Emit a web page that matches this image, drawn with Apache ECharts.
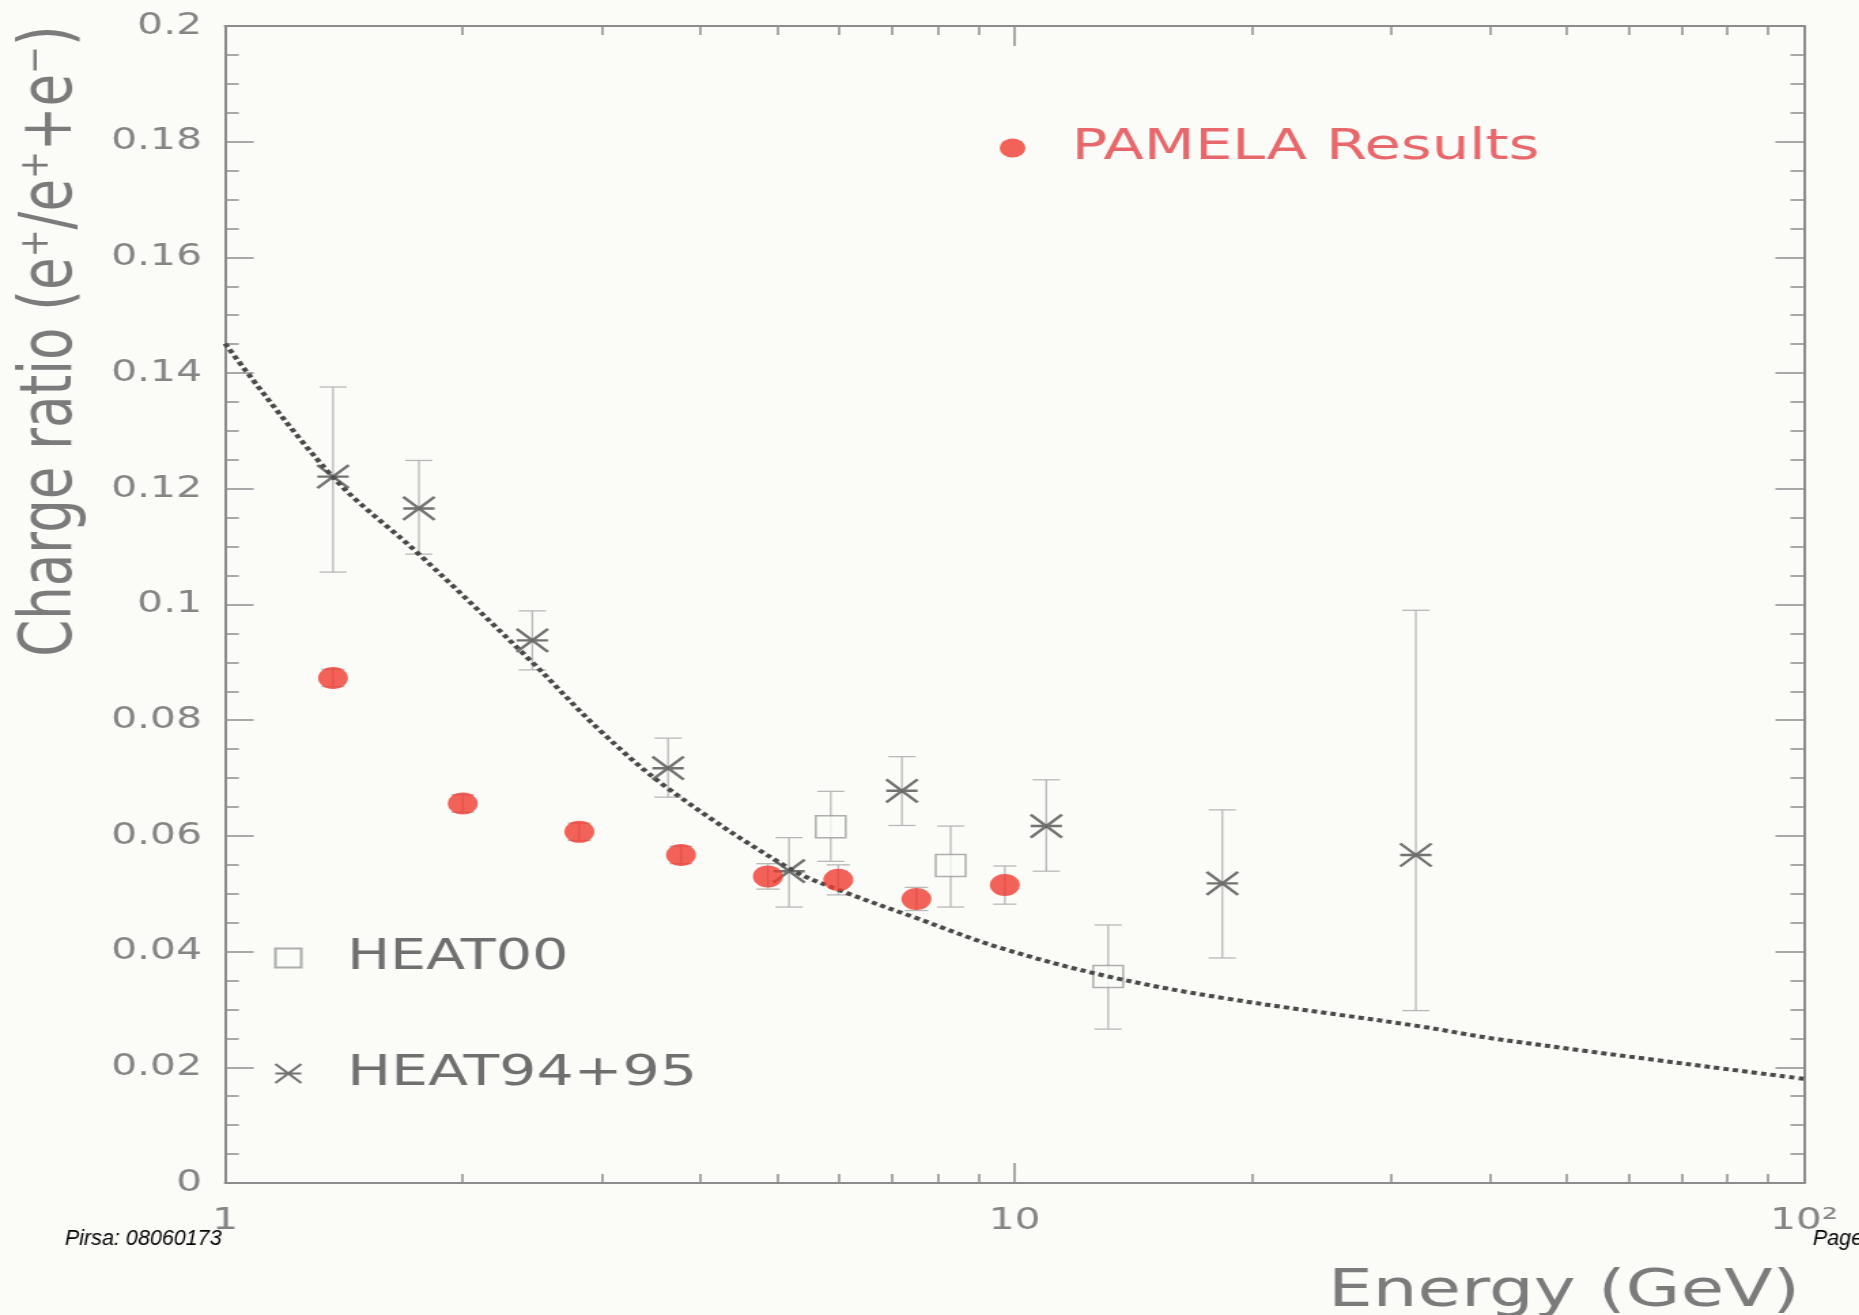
<!DOCTYPE html>
<html><head><meta charset="utf-8">
<script src="https://cdn.jsdelivr.net/npm/echarts@6/dist/echarts.min.js"></script>
<style>
html,body{margin:0;padding:0;background:#fbfcf8;overflow:hidden;width:1859px;height:1315px}
#c{width:1367px;height:1315px;transform:scaleX(1.36);transform-origin:0 0;}
</style>
</head><body><div id="c"></div>
<script>
// ---- tick definitions ----
const xTickMajor = [1, 10, 100];
const xTickMinor = [2, 3, 4, 5, 6, 7, 8, 9, 20, 30, 40, 50, 60, 70, 80, 90];
const xTickLabels = ['1', '10', '10\u00B2'];

// ---- PAMELA Results ----
const pamelaE = [1.37, 2.0, 2.81, 3.78, 4.87, 5.98, 7.51, 9.72];
const pamelaV = [0.0873, 0.0656, 0.0607, 0.0567, 0.0530, 0.0524, 0.0491, 0.0515];
const pamelaErr = [0.0015, 0.0015, 0.0015, 0.0015, 0.0022, 0.0026, 0.0020, 0.0033];

// ---- HEAT94+95 ----
const heatE = [1.37, 1.76, 2.45, 3.64, 5.18, 7.20, 10.97, 18.33, 32.23];
const heatV = [0.1221, 0.1166, 0.0938, 0.0717, 0.0539, 0.0678, 0.0617, 0.0518, 0.0567];
const heatLo = [0.1056, 0.1087, 0.0887, 0.0667, 0.0477, 0.0618, 0.0539, 0.0389, 0.0298];
const heatHi = [0.1376, 0.1249, 0.0989, 0.0769, 0.0597, 0.0737, 0.0697, 0.0645, 0.0990];

// ---- HEAT00 ----
const heat00E = [5.85, 8.30, 13.14];
const heat00V = [0.0616, 0.0549, 0.0357];
const heat00Lo = [0.0556, 0.0477, 0.0266];
const heat00Hi = [0.0677, 0.0617, 0.0446];

// ---- secondary production model curve ----
const modelE = [1, 1.37, 1.76, 2.45, 2.98, 3.64, 5.18, 5.98, 7.51, 9.56, 13.14, 18.33, 32.2, 41.2, 100];
const modelV = [0.1451, 0.1220, 0.1087, 0.0900, 0.0783, 0.0682, 0.0544, 0.0507, 0.0458, 0.0407, 0.0357, 0.0320, 0.0272, 0.0248, 0.0180];

const S = 1.36; // horizontal stretch of the original slide
const FONT = 'DejaVu Sans';
const AXIS_COLOR = '#8c8c8c';
const LABEL_COLOR = '#858585';

function errBars(capHalf, color, width) {
  return function (params, api) {
    const x = api.value(0), lo = api.value(1), hi = api.value(2);
    const a = api.coord([x, lo]), b = api.coord([x, hi]);
    const st = { stroke: color, lineWidth: width };
    return { type: 'group', children: [
      { type: 'line', shape: { x1: a[0], y1: a[1], x2: b[0], y2: b[1] }, style: st },
      { type: 'line', shape: { x1: a[0] - capHalf, y1: a[1], x2: a[0] + capHalf, y2: a[1] }, style: st },
      { type: 'line', shape: { x1: b[0] - capHalf, y1: b[1], x2: b[0] + capHalf, y2: b[1] }, style: st }
    ]};
  };
}

function logX(position, ticks, len, showLine, labels) {
  return {
    type: 'log', logBase: 10, min: 1, max: 100, position: position,
    axisLine: { show: showLine, onZero: false, lineStyle: { color: AXIS_COLOR, width: 2 } },
    axisTick: { show: true, inside: true, length: len, customValues: ticks, lineStyle: { color: AXIS_COLOR, width: 1.5 } },
    axisLabel: labels ? {
      show: true, customValues: xTickMajor, margin: 23, fontSize: 30, color: LABEL_COLOR, fontFamily: FONT,
      formatter: function (v) { const i = xTickMajor.indexOf(Math.round(v)); return i >= 0 ? xTickLabels[i] : ''; }
    } : { show: false },
    splitLine: { show: false }, minorSplitLine: { show: false }
  };
}
function linY(position, labels) {
  return {
    type: 'value', min: 0, max: 0.2, interval: 0.02, position: position,
    axisLine: { show: true, onZero: false, lineStyle: { color: AXIS_COLOR, width: 2 } },
    axisTick: { show: true, inside: true, length: 21, lineStyle: { color: AXIS_COLOR, width: 1.5 } },
    minorTick: { show: true, splitNumber: 4, length: 10, lineStyle: { color: AXIS_COLOR, width: 1.5 } },
    axisLabel: labels ? { show: true, margin: 17, fontSize: 30, color: LABEL_COLOR, fontFamily: FONT } : { show: false },
    splitLine: { show: false }
  };
}

const chart = echarts.init(document.getElementById('c'), null, { renderer: 'canvas', width: 1367, height: 1315 });
const option = {
  animation: false,
  backgroundColor: '#fbfcf8',
  textStyle: { fontFamily: FONT },
  grid: { left: 165.5, right: 40.5, top: 26, bottom: 132, containLabel: false },
  xAxis: [
    logX('bottom', xTickMajor, 20, true, true),
    logX('bottom', xTickMinor, 9, false, false),
    logX('top', xTickMajor, 20, true, false),
    logX('top', xTickMinor, 9, false, false)
  ],
  yAxis: [ linY('left', true), linY('right', false) ],
  legend: [
    { data: ['PAMELA Results'], left: 735, top: 126, padding: 0, itemWidth: 76.8, itemHeight: 19,
      selectedMode: false, textStyle: { fontSize: 43.5, color: '#e7676b', fontFamily: FONT } },
    { data: ['HEAT00'], left: 201.5, top: 937, padding: 0, itemWidth: 76.4, itemHeight: 19,
      selectedMode: false, textStyle: { fontSize: 42, color: '#6f6f6f', fontFamily: FONT } },
    { data: ['HEAT94+95'], left: 201.5, top: 1052, padding: 0, itemWidth: 76.4, itemHeight: 19,
      selectedMode: false, textStyle: { fontSize: 43, color: '#6f6f6f', fontFamily: FONT } }
  ],
  graphic: [
    { type: 'text', x: 38.5, y: 341, rotation: Math.PI / 2,
      style: { text: 'Charge ratio (e\u207A/e\u207A+e\u207B)', fontSize: 53, fill: '#7b7b7b', fontFamily: FONT, align: 'center', verticalAlign: 'middle' } },
    { type: 'text', x: 1323.5, y: 1292,
      style: { text: 'Energy (GeV)', fontSize: 52, fill: '#7b7b7b', fontFamily: FONT, align: 'right', verticalAlign: 'middle' } },
    { type: 'text', x: 47.8, y: 1239, scaleX: 1 / S,
      style: { text: 'Pirsa: 08060173', fontSize: 21.5, fontStyle: 'italic', fill: '#000', fontFamily: 'Liberation Sans', align: 'left', verticalAlign: 'middle' } },
    { type: 'text', x: 1333, y: 1239, scaleX: 1 / S,
      style: { text: 'Page', fontSize: 21.5, fontStyle: 'italic', fill: '#000', fontFamily: 'Liberation Sans', align: 'left', verticalAlign: 'middle' } }
  ],
  series: [
    { name: 'heatErr', type: 'custom', xAxisIndex: 0, yAxisIndex: 0, silent: true, z: 1,
      encode: { x: 0, y: [1, 2] }, renderItem: errBars(10, '#b8b8b8', 1.3),
      data: heatE.map((e, i) => [e, heatLo[i], heatHi[i]]) },
    { name: 'heat00Err', type: 'custom', xAxisIndex: 0, yAxisIndex: 0, silent: true, z: 1,
      encode: { x: 0, y: [1, 2] }, renderItem: errBars(10, '#b8b8b8', 1.3),
      data: heat00E.map((e, i) => [e, heat00Lo[i], heat00Hi[i]]) },
    { name: 'pamelaErr', type: 'custom', xAxisIndex: 0, yAxisIndex: 0, silent: true, z: 1,
      encode: { x: 0, y: [1, 2] }, renderItem: errBars(8.5, '#b8b8b8', 1.3),
      data: pamelaE.map((e, i) => [e, pamelaV[i] - pamelaErr[i], pamelaV[i] + pamelaErr[i]]) },
    { name: 'model', type: 'line', xAxisIndex: 0, yAxisIndex: 0, silent: true, z: 3,
      smooth: 0.35, symbol: 'none',
      lineStyle: { color: '#4a4a4a', width: 4, type: [4, 3], cap: 'butt' },
      data: modelE.map((e, i) => [e, modelV[i]]) },
    { name: 'HEAT00', type: 'scatter', xAxisIndex: 0, yAxisIndex: 0, z: 2,
      symbol: 'path://M0,0H10V10H0Z', symbolSize: 22,
      itemStyle: { color: '#fbfcf8', borderColor: '#9a9a9a', borderWidth: 1.5 },
      data: heat00E.map((e, i) => [e, heat00V[i]]) },
    { name: 'HEAT94+95', type: 'scatter', xAxisIndex: 0, yAxisIndex: 0, z: 4,
      symbol: 'path://M0,0L20,20M20,0L0,20M0,10L20,10', symbolSize: 23,
      itemStyle: { color: 'transparent', borderColor: '#505050', borderWidth: 2.4 },
      data: heatE.map((e, i) => [e, heatV[i]]) },
    { name: 'PAMELA Results', type: 'scatter', xAxisIndex: 0, yAxisIndex: 0, z: 5,
      symbol: 'circle', symbolSize: 22,
      itemStyle: { color: '#f03b2f' },
      data: pamelaE.map((e, i) => [e, pamelaV[i]]) }
  ]
};
chart.setOption(option);
</script>
</body></html>
